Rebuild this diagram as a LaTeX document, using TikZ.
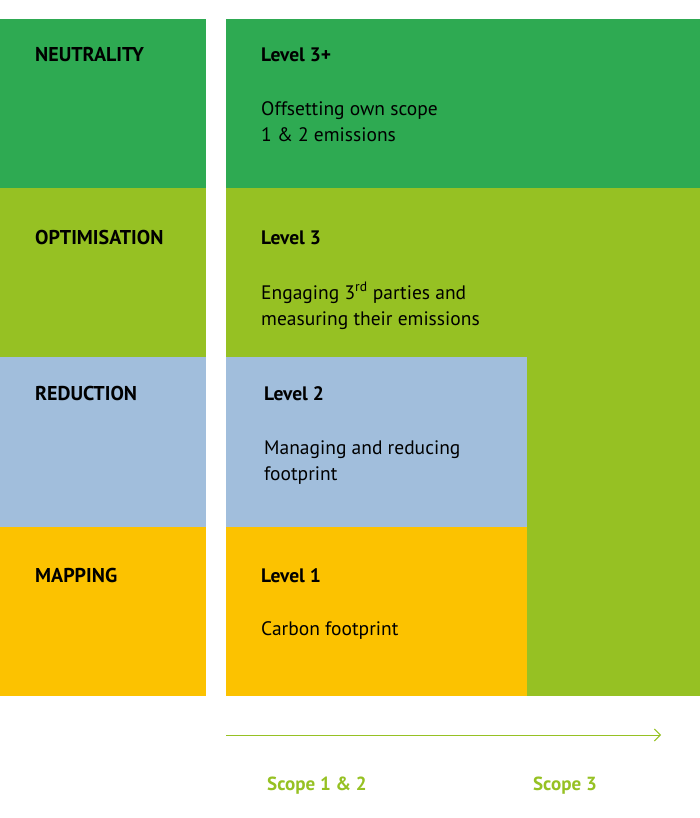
\documentclass[tikz,border=0pt]{standalone}
\usepackage{fontspec}
\setmainfont{PT Sans}
\usepackage{xcolor}
\usepackage{tikz}
\usetikzlibrary{arrows.meta}

\definecolor{darkgreen}{HTML}{2EAA52}
\definecolor{lightgreen}{HTML}{96C123}
\definecolor{paleblue}{HTML}{A1BEDC}
\definecolor{sunyellow}{HTML}{FCC200}

\begin{document}
\begin{tikzpicture}[
  x=1pt, y=-1pt,
  stage/.style={anchor=base west, inner sep=0pt, font=\fontsize{20}{22}\selectfont\bfseries},
  level/.style={anchor=base west, inner sep=0pt, font=\fontsize{19.5}{22}\selectfont\bfseries},
  desc/.style={anchor=north west, inner sep=0pt, align=left,
               font=\fontsize{19.5}{26}\selectfont},
  scope/.style={anchor=base, inner sep=0pt, text=lightgreen,
                font=\fontsize{19}{22}\selectfont\bfseries},
  arrow/.style={->, >={Straight Barb[length=6pt, width=12pt]}, draw=lightgreen, line width=1pt},
]
  \useasboundingbox (0,0) rectangle (700,818);

  % Left column of stages
  \fill[darkgreen]  (0,19)  rectangle (206,188);
  \fill[lightgreen] (0,188) rectangle (206,357);
  \fill[paleblue]   (0,357) rectangle (206,527);
  \fill[sunyellow]  (0,527) rectangle (206,696);

  % Right block of levels
  \fill[darkgreen]  (226,19)  rectangle (700,188);
  \fill[lightgreen] (226,188) rectangle (700,696);
  \fill[paleblue]   (226,357) rectangle (527,527);
  \fill[sunyellow]  (226,527) rectangle (527,696);

  % Stage names
  \node[stage] (neutral) at (35,62)  {NEUTRALITY};
  \node[stage] (optim)   at (35,244) {OPTIMISATION};
  \node[stage] (reduce)  at (35,400) {REDUCTION};
  \node[stage] (mapping) at (35,582) {MAPPING};

  % Levels and what they mean
  \node[level] (lvlthreeplus) at (261,62)  {Level 3+};
  \node[desc]  (offset)  at (261,101) {Offsetting own scope\\1 \& 2 emissions};
  \node[level] (lvlthree) at (261,244) {Level 3};
  \node[desc]  (engage)  at (261,282) {Engaging 3\textsuperscript{rd} parties and\\measuring their emissions};
  \node[level] (lvltwo)  at (264,400) {Level 2};
  \node[desc]  (manage)  at (264,440) {Managing and reducing\\footprint};
  \node[level] (lvlone)  at (261,582) {Level 1};
  \node[desc]  (carbon)  at (261,621) {Carbon footprint};

  % Scope axis
  \coordinate (axstart) at (226,735);
  \coordinate (axend)   at (661,735);
  \draw[arrow] (axstart) -- (axend);
  \node[scope] (scopeonetwo) at (317,790) {Scope 1 \& 2};
  \node[scope] (scopethree)  at (565,790) {Scope 3};
\end{tikzpicture}
\end{document}
